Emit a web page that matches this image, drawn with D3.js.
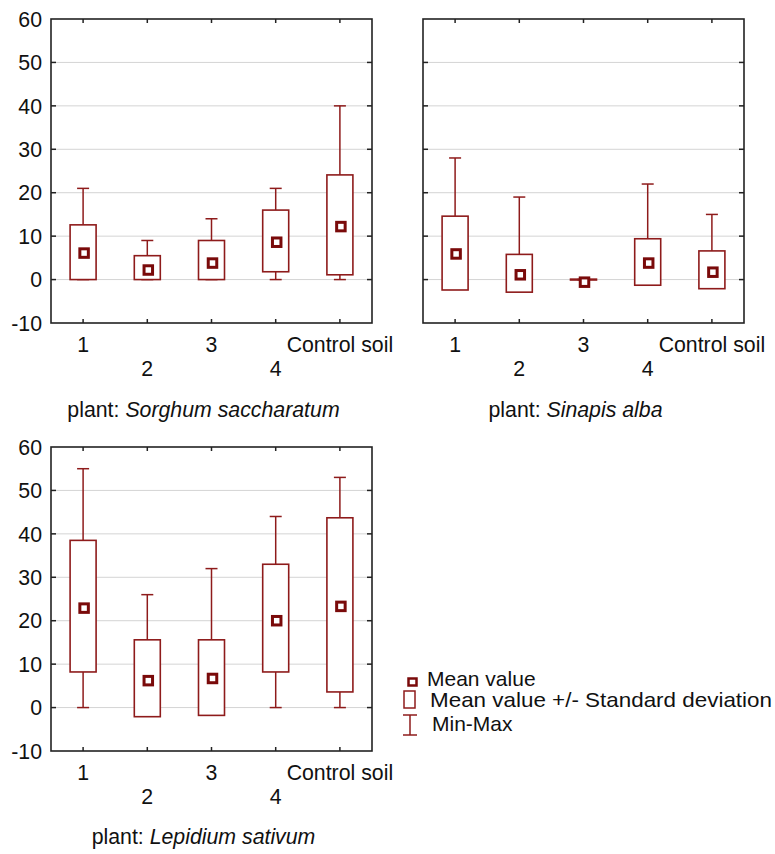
<!DOCTYPE html>
<html lang="en">
    <head>
        <meta charset="utf-8">
        <title>box plots by plant</title>
        <script src="https://d3js.org/d3.v7.min.js"></script>
        <style type="text/css">
            body { margin: 0; background: #fff; }
            text { font-family: "Liberation Sans", Arial, sans-serif; fill: #111; }
        </style>
    </head>
    <body>
        <script type="text/javascript">
            // categories and y ticks shared by the three panels
            var categories = ["1", "2", "3", "4", "Control soil"];
            var yTicks = [-10, 0, 10, 20, 30, 40, 50, 60];

            // Sorghum saccharatum
            var sorghumMean = [6.1, 2.2, 3.8, 8.6, 12.2];
            var sorghumSdLow = [0, 0, 0, 1.8, 1.1];
            var sorghumSdHigh = [12.6, 5.5, 9, 16, 24.1];
            var sorghumMin = [0, 0, 0, 0, 0];
            var sorghumMax = [21, 9, 14, 21, 40];

            // Sinapis alba
            var sinapisMean = [5.9, 1.1, -0.6, 3.8, 1.7];
            var sinapisSdLow = [-2.4, -2.9, -0.1, -1.3, -2.1];
            var sinapisSdHigh = [14.6, 5.8, 0.1, 9.4, 6.6];
            var sinapisMin = [0, 0, 0, 0, 0];
            var sinapisMax = [28, 19, 0, 22, 15];

            // Lepidium sativum
            var lepidiumMean = [22.9, 6.2, 6.7, 20, 23.3];
            var lepidiumSdLow = [8.2, -2.1, -1.8, 8.2, 3.6];
            var lepidiumSdHigh = [38.5, 15.6, 15.6, 33, 43.7];
            var lepidiumMin = [0, 0, 0, 0, 0];
            var lepidiumMax = [55, 26, 32, 44, 53];

            var boxColor = "#8e1b1b", meanColor = "#7a0a0a";
            var boxW = 26, capW = 12, markSize = 8.5;
            var panelW = 321, panelH = 304;
            var labelSize = "21.3px";

            var svg = d3.select("body").append("svg")
                .attr("width", 775)
                .attr("height", 854);

            function buildRows(mean, lo, hi, mn, mx) {
                return categories.map(function(c, i) {
                    return {cat: c, mean: mean[i], lo: lo[i], hi: hi[i], min: mn[i], max: mx[i]};
                });
            }

            function drawPanel(left, top, rows, showY, title, titleY) {
                var g = svg.append("g").attr("transform", "translate(" + left + "," + top + ")");
                var x = d3.scalePoint().domain(categories).range([0, panelW]).padding(0.5);
                var y = d3.scaleLinear().domain([-10, 60]).range([panelH, 0]);
                var yIn = yTicks.filter(function(t) { return t > -10 && t < 60; });

                // grid lines
                g.selectAll(".grid").data(yIn)
                    .enter().append("line")
                    .attr("x1", 0).attr("x2", panelW)
                    .attr("y1", function(d) { return y(d); }).attr("y2", function(d) { return y(d); })
                    .style("stroke", "#d4d4d4").style("stroke-width", 1);

                // inward ticks on all four sides
                g.selectAll(".tl").data(yIn).enter().append("line")
                    .attr("x1", 0).attr("x2", 5)
                    .attr("y1", function(d) { return y(d); }).attr("y2", function(d) { return y(d); })
                    .style("stroke", "#222").style("stroke-width", 1.5);
                g.selectAll(".tr").data(yIn).enter().append("line")
                    .attr("x1", panelW - 5).attr("x2", panelW)
                    .attr("y1", function(d) { return y(d); }).attr("y2", function(d) { return y(d); })
                    .style("stroke", "#222").style("stroke-width", 1.5);
                g.selectAll(".tt").data(categories).enter().append("line")
                    .attr("x1", function(d) { return x(d); }).attr("x2", function(d) { return x(d); })
                    .attr("y1", 0).attr("y2", 4)
                    .style("stroke", "#222").style("stroke-width", 1.5);
                g.selectAll(".tb").data(categories).enter().append("line")
                    .attr("x1", function(d) { return x(d); }).attr("x2", function(d) { return x(d); })
                    .attr("y1", panelH - 4).attr("y2", panelH)
                    .style("stroke", "#222").style("stroke-width", 1.5);

                // frame
                g.append("rect").attr("width", panelW).attr("height", panelH)
                    .style("fill", "none").style("stroke", "#222").style("stroke-width", 1.6);

                // y labels
                if (showY) {
                    g.selectAll(".ylab").data(yTicks).enter().append("text")
                        .attr("x", -9).attr("y", function(d) { return y(d); })
                        .attr("dy", "0.36em")
                        .style("text-anchor", "end")
                        .style("font-size", labelSize)
                        .text(function(d) { return d; });
                }

                // category labels, staggered on two rows
                g.selectAll(".xlab").data(categories).enter().append("text")
                    .attr("x", function(d) { return x(d); })
                    .attr("y", function(d, i) { return panelH + (i % 2 ? 53 : 29); })
                    .style("text-anchor", "middle")
                    .style("font-size", labelSize)
                    .text(function(d) { return d; });

                var box = g.selectAll(".box").data(rows).enter().append("g");

                // whiskers max
                box.append("line")
                    .attr("x1", function(d) { return x(d.cat); }).attr("x2", function(d) { return x(d.cat); })
                    .attr("y1", function(d) { return y(d.hi); }).attr("y2", function(d) { return y(Math.max(d.max, d.hi)); })
                    .style("stroke", boxColor).style("stroke-width", 1.5);
                box.append("line")
                    .attr("x1", function(d) { return x(d.cat) - capW / 2; }).attr("x2", function(d) { return x(d.cat) + capW / 2; })
                    .attr("y1", function(d) { return y(d.max); }).attr("y2", function(d) { return y(d.max); })
                    .style("stroke", boxColor).style("stroke-width", 1.5);
                // whiskers min
                box.append("line")
                    .attr("x1", function(d) { return x(d.cat); }).attr("x2", function(d) { return x(d.cat); })
                    .attr("y1", function(d) { return y(d.lo); }).attr("y2", function(d) { return y(Math.min(d.min, d.lo)); })
                    .style("stroke", boxColor).style("stroke-width", 1.5);
                box.append("line")
                    .attr("x1", function(d) { return x(d.cat) - capW / 2; }).attr("x2", function(d) { return x(d.cat) + capW / 2; })
                    .attr("y1", function(d) { return y(d.min); }).attr("y2", function(d) { return y(d.min); })
                    .style("stroke", boxColor).style("stroke-width", 1.5);

                // sd box
                box.append("rect")
                    .attr("x", function(d) { return x(d.cat) - boxW / 2; })
                    .attr("y", function(d) { return y(d.hi); })
                    .attr("width", boxW)
                    .attr("height", function(d) { return y(d.lo) - y(d.hi); })
                    .style("fill", "#fff").style("stroke", boxColor).style("stroke-width", 1.6);

                // mean marker
                box.append("rect")
                    .attr("x", function(d) { return x(d.cat) - markSize / 2 + 1; })
                    .attr("y", function(d) { return y(d.mean) - markSize / 2; })
                    .attr("width", markSize).attr("height", markSize)
                    .style("fill", "#fff").style("stroke", meanColor).style("stroke-width", 3);

                // title
                var t = svg.append("text")
                    .attr("x", left + panelW / 2 - 8)
                    .attr("y", titleY)
                    .style("text-anchor", "middle")
                    .style("font-size", labelSize);
                t.append("tspan").text("plant: ");
                t.append("tspan").style("font-style", "italic").text(title);
            }

            drawPanel(51, 19, buildRows(sorghumMean, sorghumSdLow, sorghumSdHigh, sorghumMin, sorghumMax), true, "Sorghum saccharatum", 417);
            drawPanel(423, 19, buildRows(sinapisMean, sinapisSdLow, sinapisSdHigh, sinapisMin, sinapisMax), false, "Sinapis alba", 417);
            drawPanel(51, 447, buildRows(lepidiumMean, lepidiumSdLow, lepidiumSdHigh, lepidiumMin, lepidiumMax), true, "Lepidium sativum", 844);

            // legend
            var legend = svg.append("g").attr("transform", "translate(403,0)");
            legend.append("rect").attr("x", 5.5).attr("y", 678.5).attr("width", 8).attr("height", 7)
                .style("fill", "#fff").style("stroke", meanColor).style("stroke-width", 2.5);
            legend.append("text").attr("x", 24).attr("y", 686).style("font-size", "21px").text("Mean value");

            legend.append("rect").attr("x", 1).attr("y", 691).attr("width", 11).attr("height", 17)
                .style("fill", "#fff").style("stroke", boxColor).style("stroke-width", 1.5);
            legend.append("text").attr("x", 27).attr("y", 707)
                .attr("textLength", 342).attr("lengthAdjust", "spacingAndGlyphs")
                .style("font-size", "21px").text("Mean value +/- Standard deviation");

            legend.append("line").attr("x1", 7).attr("x2", 7).attr("y1", 715).attr("y2", 735)
                .style("stroke", boxColor).style("stroke-width", 1.5);
            legend.append("line").attr("x1", 0).attr("x2", 14).attr("y1", 715).attr("y2", 715)
                .style("stroke", boxColor).style("stroke-width", 1.5);
            legend.append("line").attr("x1", 0).attr("x2", 14).attr("y1", 735).attr("y2", 735)
                .style("stroke", boxColor).style("stroke-width", 1.5);
            legend.append("text").attr("x", 29).attr("y", 731).style("font-size", "21px").text("Min-Max");
        </script>
    </body>
</html>
